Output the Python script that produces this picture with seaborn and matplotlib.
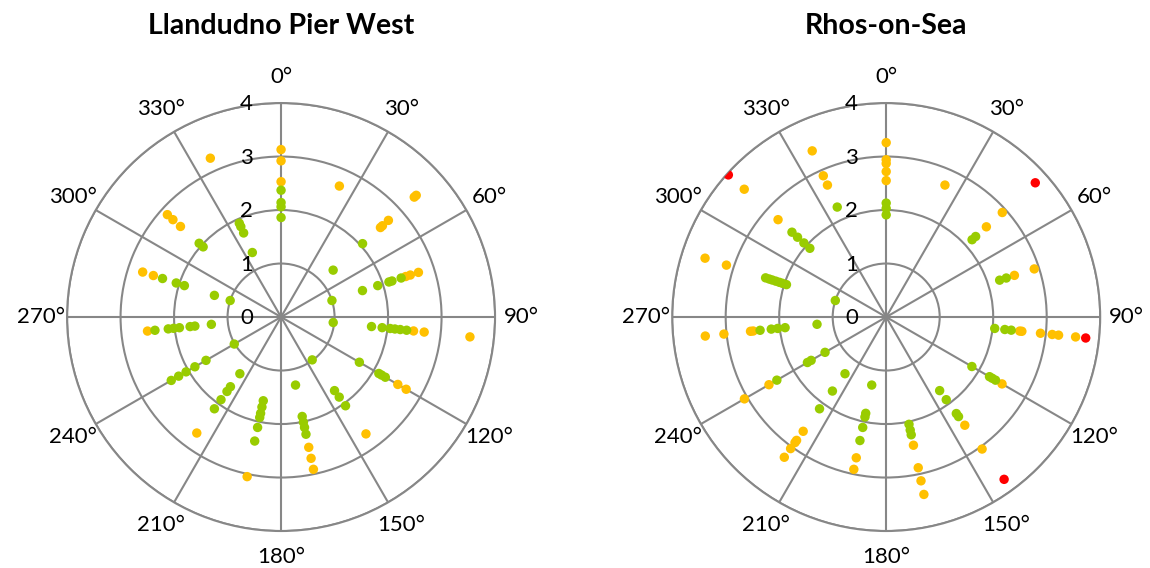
import numpy as np
import pandas as pd
import matplotlib
matplotlib.use("Agg")
import matplotlib.pyplot as plt
import matplotlib.transforms as mtransforms
import seaborn as sns

# Wave direction (degrees, from north, clockwise) and significant wave height (m)
llandudno_dir = (
    [0] * 7 + [24] + [48] * 7 + [72] * 9 + [96] * 10 + [120] * 6 + [144] * 5
    + [168] * 8 + [192] * 7 + [216] * 6 + [240] * 6 + [264] * 8 + [288] * 7
    + [312] * 5 + [336] * 5
)
llandudno_hs = [
    3.13, 2.92, 2.53, 2.37, 2.14, 2.06, 1.86,
    2.68,
    3.40, 3.35, 2.70, 2.55, 2.50, 2.05, 1.31,
    2.70, 2.54, 2.45, 2.36, 2.18, 2.12, 1.90, 1.60, 1.00,
    3.55, 2.69, 2.49, 2.36, 2.24, 2.14, 2.05, 1.90, 1.70, 0.98,
    2.70, 2.52, 2.25, 2.17, 2.11, 1.69,
    2.70, 2.05, 1.85, 1.70, 0.99,
    2.91, 2.70, 2.49, 2.24, 2.11, 2.01, 1.90, 1.30,
    3.05, 2.37, 2.11, 1.92, 1.84, 1.72, 1.60,
    2.68, 2.12, 1.91, 1.72, 1.61, 1.31,
    2.37, 2.21, 2.05, 1.86, 1.62, 1.01,
    2.51, 2.37, 2.12, 2.02, 1.91, 1.71, 1.62, 1.31,
    2.72, 2.51, 2.33, 2.06, 1.90, 1.31, 1.00,
    2.86, 2.72, 2.53, 2.06, 1.96,
    3.25, 1.92, 1.85, 1.72, 1.32,
]

rhos_dir = (
    [0] * 8 + [24] + [48] * 5 + [72] * 4 + [96] * 10 + [120] * 5 + [144] * 7
    + [168] * 7 + [192] * 7 + [216] * 8 + [240] * 6 + [264] * 9 + [288] * 10
    + [312] * 7 + [336] * 4
)
rhos_hs = [
    3.26, 2.94, 2.87, 2.72, 2.55, 2.13, 2.03, 1.91,
    2.70,
    3.75, 2.92, 2.52, 2.25, 2.16,
    2.91, 2.52, 2.36, 2.23,
    3.75, 3.56, 3.24, 3.12, 2.90, 2.55, 2.51, 2.35, 2.23, 2.04,
    2.50, 2.36, 2.29, 2.23, 1.85,
    3.75, 3.05, 2.50, 2.30, 2.23, 1.91, 1.70,
    3.39, 3.13, 2.88, 2.45, 2.25, 2.16, 2.05,
    2.91, 2.69, 2.36, 2.11, 1.91, 1.84, 1.30,
    3.24, 3.04, 2.90, 2.85, 2.64, 2.12, 1.71, 1.31,
    3.06, 2.53, 2.36, 1.70, 1.62, 1.32,
    3.40, 3.05, 2.55, 2.50, 2.37, 2.16, 2.04, 1.90, 1.30,
    3.56, 3.14, 2.37, 2.30, 2.24, 2.17, 2.10, 2.04, 1.96, 1.00,
    3.97, 3.57, 2.72, 2.37, 2.23, 2.07, 1.92,
    3.40, 2.89, 2.70, 2.25,
]

site_names = ["Llandudno Pier West", "Rhos-on-Sea"]
radial_ticks = [0, 1, 2, 3, 4]
angle_ticks = list(range(0, 360, 30))
band_edges = [0, 2.4, 3.7, 10]
band_names = ["low", "moderate", "high"]
band_colors = {"low": "#99CC00", "moderate": "#FFC000", "high": "#FF0000"}

sns.set_theme(style="white")
plt.rcParams["font.family"] = ["Lato", "DejaVu Sans"]

grid_color = "#878787"
fig = plt.figure(figsize=(11.5, 5.68), dpi=100)

axes_pos = [
    [0.0583, 0.0651, 0.3722, 0.7535],
    [0.5845, 0.0651, 0.3722, 0.7535],
]

for name, dirs, hs, pos in zip(site_names, [llandudno_dir, rhos_dir],
                               [llandudno_hs, rhos_hs], axes_pos):
    ax = fig.add_axes(pos, projection="polar")
    df = pd.DataFrame({"theta": np.deg2rad(dirs), "hs": hs})
    df["band"] = pd.cut(df["hs"], band_edges, labels=band_names, right=False)
    ax.set_theta_zero_location("N")
    ax.set_theta_direction(-1)
    ax.set_ylim(0, 4)
    ax.set_yticks(radial_ticks)
    ax.set_yticklabels([])
    ax.set_xticks(np.deg2rad(angle_ticks))
    ax.set_xticklabels([f"{a}°" for a in angle_ticks], fontsize=16, color="black")
    ax.tick_params(axis="x", pad=6)
    ax.grid(True, color=grid_color, linewidth=1.5)
    ax.spines["polar"].set_color(grid_color)
    ax.spines["polar"].set_linewidth(1.5)
    ax.set_facecolor("white")

    sns.scatterplot(data=df, x="theta", y="hs", hue="band", palette=band_colors,
                    hue_order=band_names, s=46, edgecolor="none", linewidth=0,
                    legend=False, ax=ax, zorder=3)
    ax.set_xlabel("")
    ax.set_ylabel("")

    # Radial value labels sit just left of the north spoke
    label_tf = mtransforms.offset_copy(ax.transData, fig=fig, x=-25, y=-1, units="points")
    for r in radial_ticks:
        ax.text(0, r, str(r), transform=label_tf, ha="center", va="center",
                fontsize=16, color="black")

    ax.set_title(name, fontsize=20.5, fontweight="bold", color="black", pad=50)

fig.savefig("out.png", dpi=100, facecolor="white")
